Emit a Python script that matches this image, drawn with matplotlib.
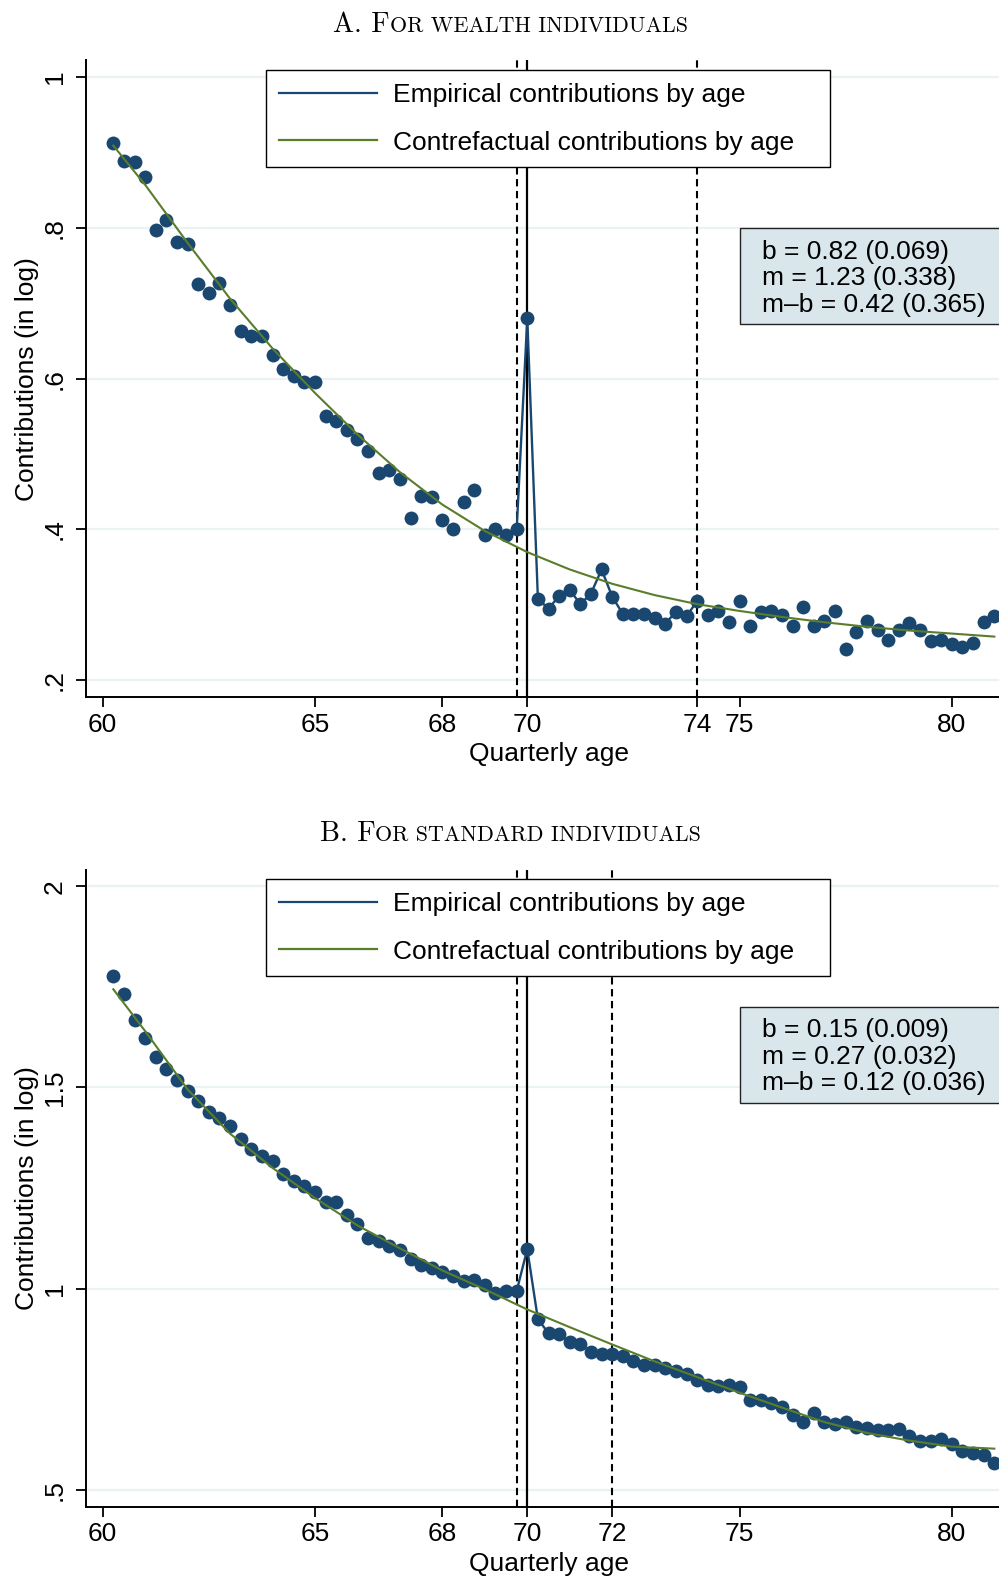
import numpy as np
import matplotlib
matplotlib.use("Agg")
import matplotlib.pyplot as plt
from matplotlib.patches import Rectangle
from matplotlib.lines import Line2D

# ---------------- data ----------------
ages = [y + q for y in range(60, 81) for q in (0.25, 0.5, 0.75, 1.0)]

emp_a = [0.912, 0.888, 0.887, 0.868,
         0.797, 0.811, 0.781, 0.779,
         0.725, 0.713, 0.727, 0.697,
         0.663, 0.657, 0.657, 0.631,
         0.613, 0.604, 0.596, 0.596,
         0.551, 0.544, 0.532, 0.520,
         0.504, 0.475, 0.479, 0.467,
         0.415, 0.444, 0.443, 0.413,
         0.400, 0.437, 0.453, 0.393,
         0.400, 0.393, 0.400, 0.680,
         0.308, 0.295, 0.312, 0.320,
         0.301, 0.315, 0.347, 0.311,
         0.288, 0.288, 0.288, 0.283,
         0.275, 0.291, 0.285, 0.305,
         0.287, 0.292, 0.277, 0.305,
         0.272, 0.291, 0.292, 0.287,
         0.272, 0.297, 0.272, 0.279,
         0.292, 0.241, 0.264, 0.279,
         0.267, 0.253, 0.267, 0.276,
         0.267, 0.252, 0.253, 0.248,
         0.244, 0.249, 0.277, 0.285]

emp_b = [1.776, 1.732, 1.668, 1.623,
         1.575, 1.545, 1.519, 1.492,
         1.467, 1.440, 1.424, 1.404,
         1.372, 1.347, 1.329, 1.316,
         1.284, 1.268, 1.255, 1.240,
         1.216, 1.216, 1.182, 1.161,
         1.126, 1.117, 1.106, 1.097,
         1.074, 1.059, 1.051, 1.041,
         1.030, 1.019, 1.021, 1.008,
         0.988, 0.994, 0.994, 1.098,
         0.924, 0.889, 0.886, 0.867,
         0.861, 0.843, 0.838, 0.838,
         0.833, 0.820, 0.810, 0.810,
         0.803, 0.794, 0.788, 0.773,
         0.759, 0.757, 0.759, 0.755,
         0.722, 0.722, 0.715, 0.705,
         0.686, 0.668, 0.691, 0.668,
         0.664, 0.668, 0.655, 0.654,
         0.648, 0.649, 0.651, 0.633,
         0.622, 0.620, 0.627, 0.614,
         0.595, 0.592, 0.587, 0.566]

cf_ages = [60.25, 61, 62, 63, 64, 65, 66, 67, 68, 69, 70,
           71, 72, 73, 74, 75, 76, 77, 78, 79, 80, 81]
cf_a = [0.909, 0.857, 0.780, 0.706, 0.640, 0.581, 0.526, 0.476, 0.433, 0.398, 0.370,
        0.347, 0.328, 0.313, 0.301, 0.292, 0.284, 0.277, 0.271, 0.266, 0.262, 0.258]
cf_b = [1.744, 1.640, 1.495, 1.385, 1.300, 1.225, 1.157, 1.100, 1.045, 0.998, 0.948,
        0.904, 0.861, 0.819, 0.780, 0.741, 0.704, 0.668, 0.641, 0.622, 0.607, 0.602]

xticks_a = [60, 65, 68, 70, 74, 75, 80]
xticks_b = [60, 65, 68, 70, 72, 75, 80]
yticks_a = [0.2, 0.4, 0.6, 0.8, 1.0]
ylabels_a = [".2", ".4", ".6", ".8", "1"]
yticks_b = [0.5, 1.0, 1.5, 2.0]
ylabels_b = [".5", "1", "1.5", "2"]

vline_a = {"lower": 69.75, "cut": 70, "upper": 74}
vline_b = {"lower": 69.75, "cut": 70, "upper": 72}

stats_a = ["b = 0.82 (0.069)", "m = 1.23 (0.338)", "m\u2013b = 0.42 (0.365)"]
stats_b = ["b = 0.15 (0.009)", "m = 0.27 (0.032)", "m\u2013b = 0.12 (0.036)"]

legend_labels = ["Empirical contributions by age", "Contrefactual contributions by age"]

# ---------------- style ----------------
W, H = 999, 1576
NAVY = "#1A476F"
GREEN = "#5A7D2C"
GRID = "#EAF2F3"
BOXFILL = "#D9E6EC"
FS = 19
plt.rcParams["font.family"] = ["Liberation Sans", "DejaVu Sans"]

fig = plt.figure(figsize=(W / 100, H / 100), dpi=100)


def fx(x):
    return x / W


def fy(y):
    return 1 - y / H


def make_panel(rect_px, ylim, emp, cf, xticks, yticks, ylabels, vl, stats,
               legend_top, box_top, box_bot, title_parts, title_base, title_w):
    left, top, bottom = rect_px
    ax = fig.add_axes([fx(left), fy(bottom), 1 - fx(left), (bottom - top) / H])
    ax.set_xlim(59.614, 81.11)
    ax.set_ylim(*ylim)
    for s in ("top", "right"):
        ax.spines[s].set_visible(False)
    for s in ("left", "bottom"):
        ax.spines[s].set_linewidth(1.4)
    ax.set_xticks(xticks)
    ax.set_xticklabels([str(t) for t in xticks])
    ax.set_yticks(yticks)
    ax.set_yticklabels(ylabels, rotation=90, va="center")
    ax.tick_params(axis="both", direction="out", length=7, width=1.3,
                   labelsize=FS, pad=4)
    ax.tick_params(axis="y", pad=7)
    ax.yaxis.grid(True, color=GRID, lw=1.6)
    ax.set_axisbelow(True)
    ax.set_xlabel("Quarterly age", fontsize=FS, labelpad=4)
    ax.xaxis.label.set_x(0.507)
    ax.set_ylabel("Contributions (in log)", fontsize=FS, labelpad=3)

    ax.axvline(vl["lower"], color="black", lw=1.5, ls=(0, (3.5, 2.2)), zorder=1)
    ax.axvline(vl["upper"], color="black", lw=1.5, ls=(0, (3.5, 2.2)), zorder=1)
    ax.axvline(vl["cut"], color="black", lw=1.6, zorder=1)

    # connecting line is shown only inside the excluded window
    a = np.array(ages)
    e = np.array(emp)
    win = (a >= vl["lower"]) & (a <= vl["upper"])
    ax.plot(a[win], e[win], color=NAVY, lw=1.7, zorder=3)
    ax.plot(a, e, ls="none", marker="o", ms=10, mfc=NAVY, mec=NAVY,
            mew=0, zorder=4, clip_on=False)
    ax.plot(cf_ages, cf, color=GREEN, lw=1.5, zorder=5)

    handles = [Line2D([], [], color=NAVY, lw=1.6),
               Line2D([], [], color=GREEN, lw=1.6)]
    leg = ax.legend(handles, legend_labels, loc="upper left",
                    bbox_to_anchor=(fx(266.3), fy(legend_top + 96.4),
                                    (830.1 - 266.3) / W, 96.4 / H),
                    bbox_transform=fig.transFigure, mode="expand",
                    borderaxespad=0, fontsize=FS, frameon=True, fancybox=False,
                    framealpha=1, edgecolor="black", borderpad=0.48,
                    labelspacing=0.89, handlelength=3.7, handletextpad=0.63)
    leg.get_frame().set_linewidth(1.0)
    leg.set_zorder(10)

    rect = Rectangle((fx(739.5), fy(box_bot)), 0.3, (box_bot - box_top) / H,
                     transform=fig.transFigure, facecolor=BOXFILL,
                     edgecolor="#222222", lw=1.0, zorder=10)
    fig.patches.append(rect)
    for i, s in enumerate(stats):
        fig.text(fx(762), fy(box_top + 23.5 + 26.6 * i), s, fontsize=FS,
                 va="center", ha="left", zorder=11)

    # small caps title in Computer Modern
    r = fig.canvas.get_renderer()
    items = []
    base = 18.0
    for s, small in title_parts:
        t = fig.text(0, 0, s, fontsize=base * (0.78 if small else 1.0),
                     family="cmr10")
        items.append([t, small])
    widths = [t.get_window_extent(r).width for t, _ in items]
    scale = title_w / sum(widths)
    x = 510.5 - title_w / 2
    for (t, small), w in zip(items, widths):
        t.set_fontsize(base * scale * (0.78 if small else 1.0))
        t.set_va("baseline")
        t.set_position((fx(x), fy(title_base)))
        x += w * scale
    return ax


make_panel((86.3, 60.0, 697.3), (0.1775, 1.0225), emp_a, cf_a, xticks_a,
           yticks_a, ylabels_a, vline_a, stats_a, 70.4, 228.3, 324.0,
           [("A. F", False), ("OR WEALTH INDIVIDUALS", True)], 31.5, 355)
make_panel((86.3, 870.0, 1506.7), (0.4577, 2.0405), emp_b, cf_b, xticks_b,
           yticks_b, ylabels_b, vline_b, stats_b, 879.4, 1006.7, 1103.3,
           [("B. F", False), ("OR STANDARD INDIVIDUALS", True)], 840.5, 382)

fig.savefig("out.png", dpi=100)
